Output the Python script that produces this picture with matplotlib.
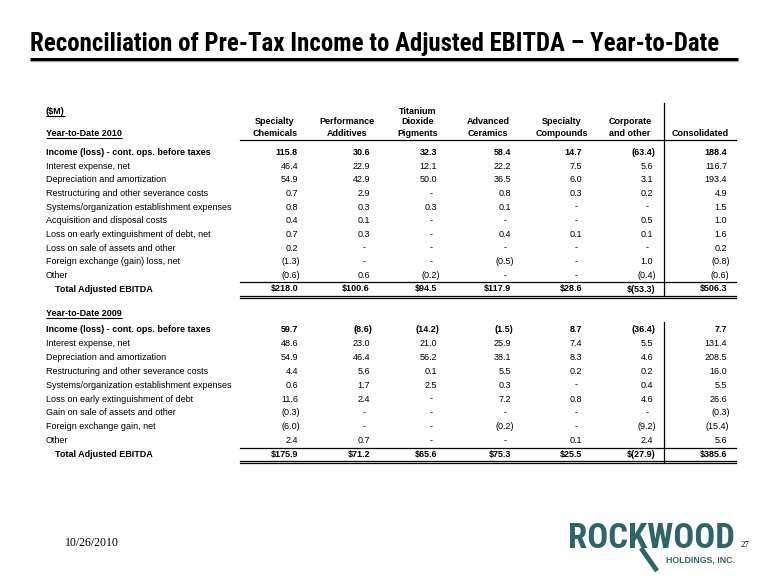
import matplotlib
matplotlib.use("Agg")
import matplotlib.pyplot as plt
from matplotlib import font_manager
from matplotlib.font_manager import FontProperties

# ---------------- data ----------------
columns = ["Specialty\nChemicals", "Performance\nAdditives", "Titanium\nDioxide\nPigments",
           "Advanced\nCeramics", "Specialty\nCompounds", "Corporate\nand other", "Consolidated"]

labels_2010 = ["Income (loss) - cont. ops. before taxes", "Interest expense, net",
               "Depreciation and amortization", "Restructuring and other severance costs",
               "Systems/organization establishment expenses", "Acquisition and disposal costs",
               "Loss on early extinguishment of debt, net", "Loss on sale of assets and other",
               "Foreign exchange (gain) loss, net", "Other", "Total Adjusted EBITDA"]
values_2010 = [
    [115.8, 30.6, 32.3, 58.4, 14.7, -63.4, 188.4],
    [46.4, 22.9, 12.1, 22.2, 7.5, 5.6, 116.7],
    [54.9, 42.9, 50.0, 36.5, 6.0, 3.1, 193.4],
    [0.7, 2.9, None, 0.8, 0.3, 0.2, 4.9],
    [0.8, 0.3, 0.3, 0.1, None, None, 1.5],
    [0.4, 0.1, None, None, None, 0.5, 1.0],
    [0.7, 0.3, None, 0.4, 0.1, 0.1, 1.6],
    [0.2, None, None, None, None, None, 0.2],
    [-1.3, None, None, -0.5, None, 1.0, -0.8],
    [-0.6, 0.6, -0.2, None, None, -0.4, -0.6],
    [218.0, 100.6, 94.5, 117.9, 28.6, -53.3, 506.3],
]

labels_2009 = ["Income (loss) - cont. ops. before taxes", "Interest expense, net",
               "Depreciation and amortization", "Restructuring and other severance costs",
               "Systems/organization establishment expenses", "Loss on early extinguishment of debt",
               "Gain on sale of assets and other", "Foreign exchange gain, net", "Other",
               "Total Adjusted EBITDA"]
values_2009 = [
    [59.7, -8.6, -14.2, -1.5, 8.7, -36.4, 7.7],
    [48.6, 23.0, 21.0, 25.9, 7.4, 5.5, 131.4],
    [54.9, 46.4, 56.2, 38.1, 8.3, 4.6, 208.5],
    [4.4, 5.6, 0.1, 5.5, 0.2, 0.2, 16.0],
    [0.6, 1.7, 2.5, 0.3, None, 0.4, 5.5],
    [11.6, 2.4, None, 7.2, 0.8, 4.6, 26.6],
    [-0.3, None, None, None, None, None, -0.3],
    [-6.0, None, None, -0.2, None, -9.2, -15.4],
    [2.4, 0.7, None, None, 0.1, 2.4, 5.6],
    [175.9, 71.2, 65.6, 75.3, 25.5, -27.9, 385.6],
]

title = "Reconciliation of Pre-Tax Income to Adjusted EBITDA \u2013 Year-to-Date"
date_text = "10/26/2010"
page_no = "27"

# ---------------- style ----------------
ttf = font_manager.fontManager.ttflist
names = {f.name for f in ttf}
SANS = "Liberation Sans" if "Liberation Sans" in names else "DejaVu Sans"
SERIF = "Liberation Serif" if "Liberation Serif" in names else "DejaVu Serif"


def find_condensed_bold():
    prefs = [("narrow", "liberation"), ("condensed", "roboto"), ("condensed", "open"),
             ("condensed", "noto"), ("condensed", "dejavu"), ("narrow", ""), ("condensed", "")]
    for key, fam in prefs:
        for f in ttf:
            fn = f.fname.lower()
            if key in fn and fam in fn and "bold" in fn and "italic" not in fn and "oblique" not in fn \
                    and "semi" not in fn and "extra" not in fn:
                return FontProperties(fname=f.fname)
    return FontProperties(family=SANS, weight="bold")


COND = find_condensed_bold()
FS = 6.5
TEAL = "#2d6664"

fig = plt.figure(figsize=(7.8, 5.85), dpi=100)
ax = fig.add_axes([0, 0, 1, 1])
ax.set_xlim(0, 780)
ax.set_ylim(585, 0)
ax.axis("off")
renderer = fig.canvas.get_renderer()


def fit_width(t, target_px, max_size):
    t.set_fontsize(max_size)
    w = t.get_window_extent(renderer).width
    if w > target_px:
        t.set_fontsize(max_size * target_px / w)


def underline(t, y):
    bb = t.get_window_extent(renderer)
    inv = ax.transData.inverted()
    (x0, _), (x1, _) = inv.transform([(bb.x0, 0), (bb.x1, 0)])
    ax.plot([x0, x1], [y, y], color="black", lw=0.8, solid_capstyle="butt")


# title
tt = ax.text(30, 44, title, fontproperties=COND.copy(), va="center", ha="left")
fit_width(tt, 690, 18)
ax.plot([30, 738], [58.5, 58.5], color="black", lw=2.2, solid_capstyle="butt")
ax.plot([30, 738], [60.5, 60.5], color="#9a9a9a", lw=0.8, solid_capstyle="butt")

# layout
label_x = 46
col_right = [298, 370, 437, 511, 582, 653, 727]
col_center = [275, 347, 418, 488, 562, 630, 700]
line_x0, line_x1 = 240, 736
vline_x = 664


def fmt(v, total=False):
    if v is None:
        return None
    s = f"{abs(v):.1f}"
    if v < 0:
        s = f"({s})"
    if total:
        s = "$" + s
    return s


def draw_value(v, ci, y, bold=False, total=False):
    s = fmt(v, total)
    w = "bold" if bold else "normal"
    if s is None:
        ax.text(col_right[ci] - 6, y, "-", fontsize=FS, family=SANS, ha="center", va="center")
    else:
        x = col_right[ci] + (2.5 if v < 0 else 0)
        ax.text(x, y, s, fontsize=FS, family=SANS, fontweight=w, ha="right", va="center")


# headers
t = ax.text(label_x, 111, "($M)", fontsize=FS, family=SANS, fontweight="bold", va="center")
underline(t, 115.5)
t = ax.text(label_x, 133, "Year-to-Date 2010", fontsize=FS, family=SANS, fontweight="bold", va="center")
underline(t, 137.5)
for ci, name in enumerate(columns):
    lines = name.split("\n")
    for k, ln in enumerate(reversed(lines)):
        ax.text(col_center[ci], 133 - 11 * k, ln, fontsize=FS, family=SANS, fontweight="bold",
                ha="center", va="center")
ax.plot([line_x0, line_x1], [139.5, 139.5], color="black", lw=0.9)


def draw_block(labels, values, y0, step):
    ys = [y0 + i * step for i in range(len(labels))]
    n = len(labels)
    for i, (lab, row) in enumerate(zip(labels, values)):
        y = ys[i]
        first = i == 0
        total = i == n - 1
        if total:
            ax.text(label_x + 9, y, lab, fontsize=FS, family=SANS, fontweight="bold", va="center")
        else:
            ax.text(label_x, y, lab, fontsize=FS, family=SANS,
                    fontweight="bold" if first else "normal", va="center")
        for ci, v in enumerate(row):
            draw_value(v, ci, y, bold=first or total, total=total)
    yt = ys[-1]
    ax.plot([line_x0, line_x1], [yt - 7, yt - 7], color="black", lw=0.9)
    ax.plot([line_x0, line_x1], [yt + 6.8, yt + 6.8], color="black", lw=0.9)
    ax.plot([line_x0, line_x1], [yt + 8.8, yt + 8.8], color="black", lw=0.9)
    return ys


ys1 = draw_block(labels_2010, values_2010, 152.5, 13.65)
ax.plot([vline_x, vline_x], [103, ys1[-1] + 7], color="black", lw=0.9)

t = ax.text(label_x, 313, "Year-to-Date 2009", fontsize=FS, family=SANS, fontweight="bold", va="center")
underline(t, 317.5)
ys2 = draw_block(labels_2009, values_2009, 329.5, 13.9)
ax.plot([vline_x, vline_x], [321.5, ys2[-1] + 7], color="black", lw=0.9)

# footer
ax.text(65, 543, date_text, fontsize=8.5, family=SERIF, va="center", ha="left")
ax.text(745, 545, page_no, fontsize=6.5, family=SERIF, va="center", ha="center")

# logo
lp = COND.copy()
lt = ax.text(568, 539, "ROCKWOOD", fontproperties=lp, color=TEAL, va="center", ha="left")
fit_width(lt, 168, 25)
ax.plot([641, 657], [548, 571], color=TEAL, lw=3.5, solid_capstyle="butt")
ax.text(735, 560, "HOLDINGS, INC.", fontsize=6.3, family=SANS, fontweight="bold", color=TEAL,
        va="center", ha="right")

fig.savefig("out.png", dpi=100)
